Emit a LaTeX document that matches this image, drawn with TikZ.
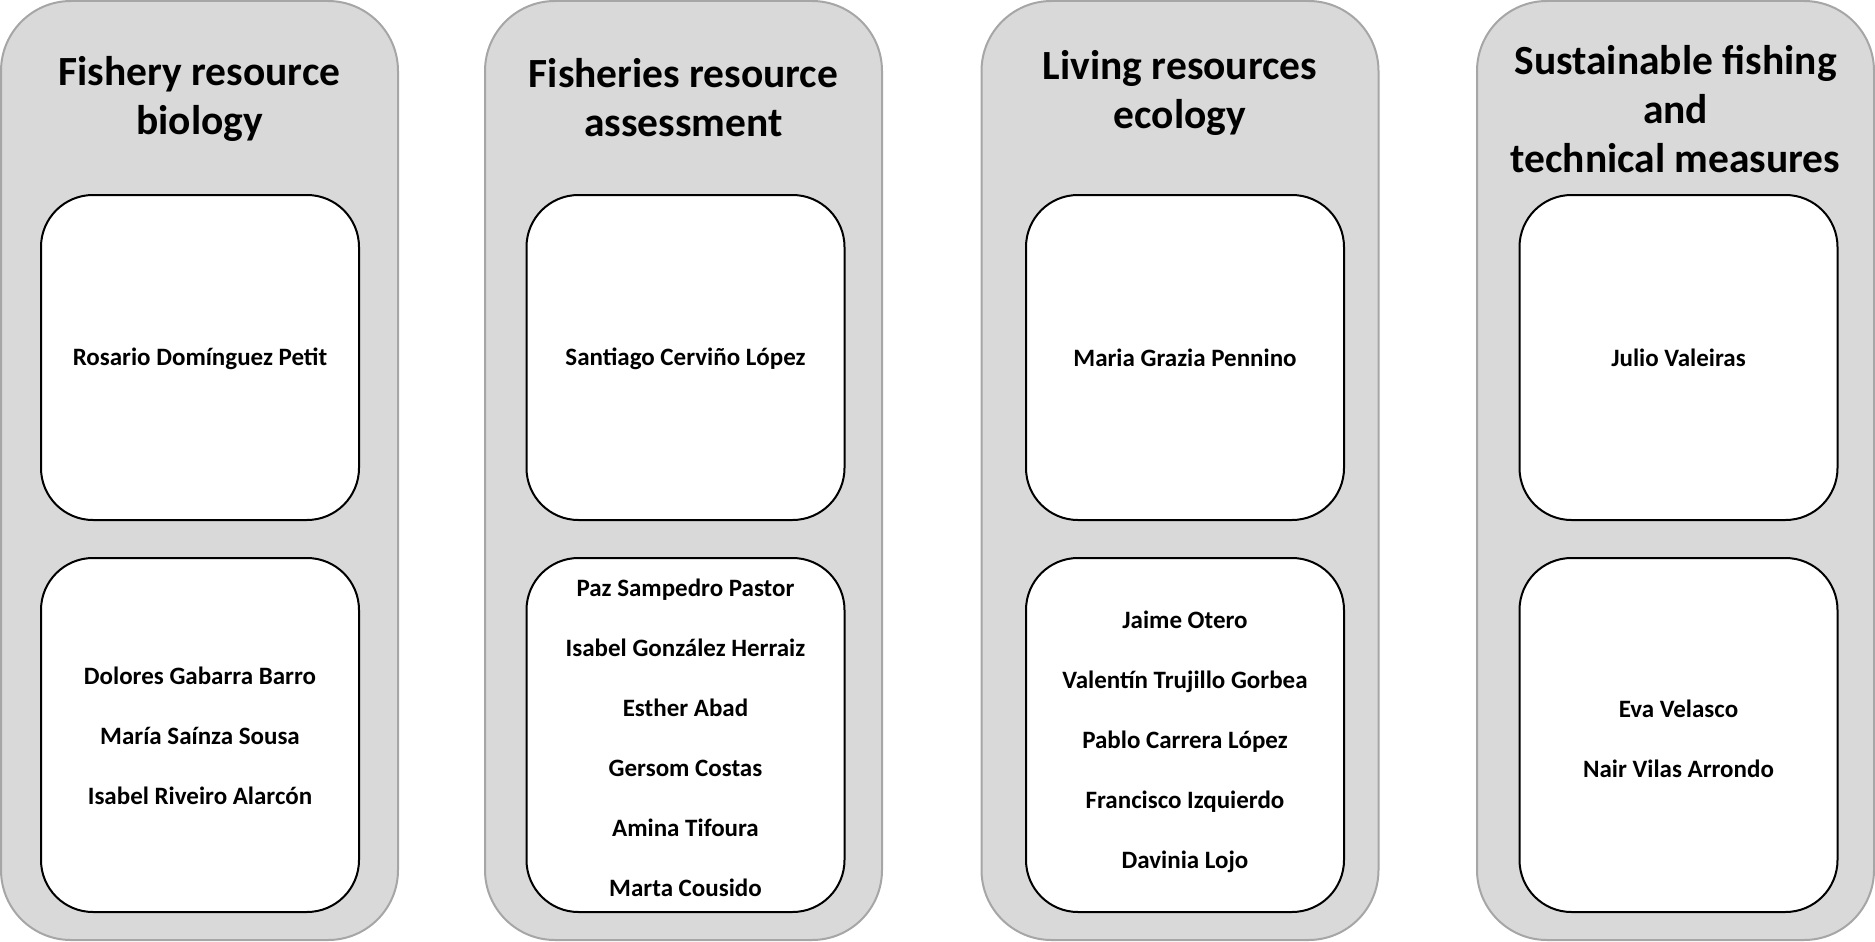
\documentclass[tikz,border=0pt]{standalone}
\usepackage{fontspec}
\setmainfont{Carlito}
\usepackage{tikz}
\usetikzlibrary{positioning}
\usepackage{xcolor}
\definecolor{panelgray}{RGB}{217,217,217}
\definecolor{panelline}{RGB}{166,166,166}

\begin{document}
\begin{tikzpicture}[x=1pt,y=-1pt,
	panel/.style={draw=panelline,fill=panelgray,line width=2pt,rounded corners=70pt,
		minimum width=397pt,minimum height=939pt},
	title/.style={align=center,font=\bfseries\fontsize{41.5}{49}\selectfont},
	card/.style={draw=black,fill=white,line width=2pt,rounded corners=52pt,minimum width=318pt},
	lead/.style={card,minimum height=325pt},
	team/.style={card,minimum height=354pt},
	names/.style={align=center,font=\bfseries\fontsize{25}{60}\selectfont}]
\useasboundingbox (0,0) rectangle (1875,942);

\node[panel] (biology) at (199.5,470.5) {};
\node[panel] (assessment) at (683.5,470.5) {};
\node[panel] (ecology) at (1180,470.5) {};
\node[panel] (fishing) at (1675.5,470.5) {};

\node[title] (biologytitle) at (199.5,99) {Fishery resource\\biology};
\node[title] (assessmenttitle) at (683.5,98) {Fisheries resource\\assessment};
\node[title] (ecologytitle) at (1180,93) {Living resources\\ecology};
\node[title] (fishingtitle) at (1675.5,109) {Sustainable fishing\\and\\technical measures};

\node[lead] (biologylead) at (200,357.5) {};
\node[team] (biologyteam) at (200,735) {};
\node[lead] (assessmentlead) at (685.5,357.5) {};
\node[team] (assessmentteam) at (685.5,735) {};
\node[lead] (ecologylead) at (1185,357.5) {};
\node[team] (ecologyteam) at (1185,735) {};
\node[lead] (fishinglead) at (1678.5,357.5) {};
\node[team] (fishingteam) at (1678.5,735) {};

\node[names] (biologyhead) at ([yshift=-1pt]biologylead.center) {Rosario Domínguez Petit};
\node[names] (biologystaff) at ([yshift=-1pt]biologyteam.center) {Dolores Gabarra Barro\\María Saínza Sousa\\Isabel Riveiro Alarcón};

\node[names] (assessmenthead) at ([yshift=-1pt]assessmentlead.center) {Santiago Cerviño López};
\node[names] (assessmentstaff) at ([yshift=-2.5pt]assessmentteam.center) {Paz Sampedro Pastor\\Isabel González Herraiz\\Esther Abad\\Gersom Costas\\Amina Tifoura\\Marta Cousido};

\node[names] (ecologyhead) at (ecologylead.center) {Maria Grazia Pennino};
\node[names] (ecologystaff) at ([yshift=-7pt]ecologyteam.center) {Jaime Otero\\Valentín Trujillo Gorbea\\Pablo Carrera López\\Francisco Izquierdo\\Davinia Lojo};

\node[names] (fishinghead) at (fishinglead.center) {Julio Valeiras};
\node[names] (fishingstaff) at ([yshift=-3.5pt]fishingteam.center) {Eva Velasco\\Nair Vilas Arrondo};

\end{tikzpicture}
\end{document}
